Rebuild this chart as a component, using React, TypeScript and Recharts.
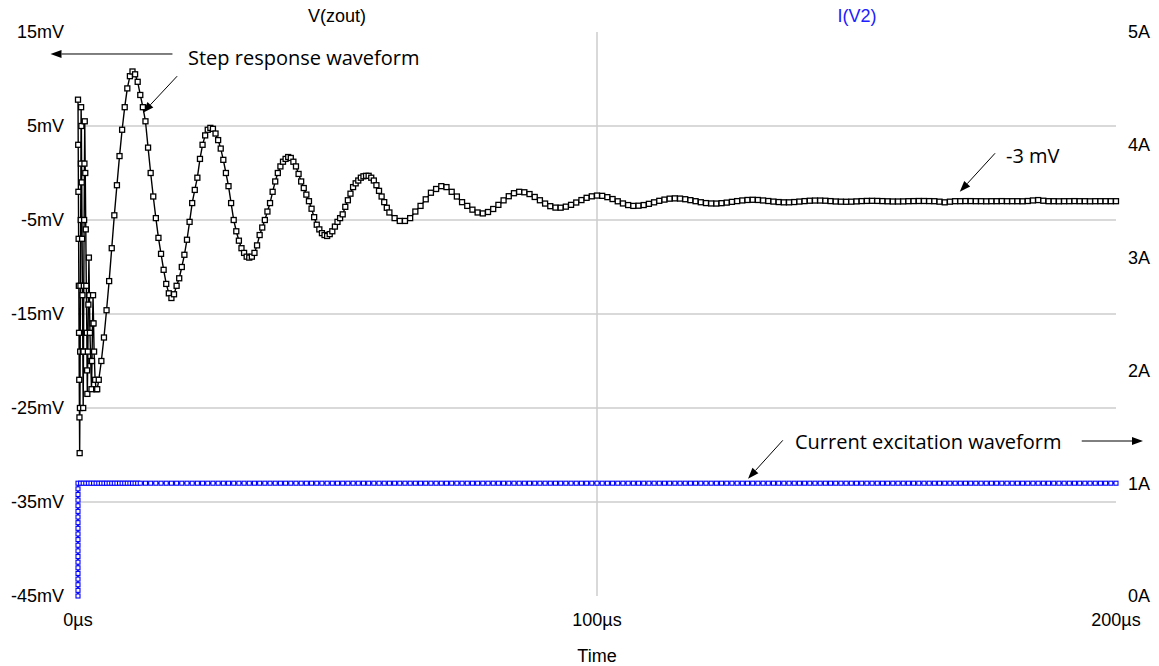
import React from 'react';
import { LineChart, Line, XAxis, YAxis, ReferenceLine } from 'recharts';

// ---- time axis (µs) and V(zout) samples (mV) ----
const voltageTimes = [
  0, 0.04, 0.08, 0.12, 0.16, 0.2, 0.24, 0.28, 0.32,
  0.37, 0.42, 0.47, 0.52, 0.56, 0.6,
  0.65, 0.72, 0.79, 0.86, 0.93, 1.0,
  1.06, 1.12, 1.18, 1.24, 1.3,
  1.4, 1.5, 1.6, 1.7, 1.75, 1.8,
  1.9, 2.0, 2.1,
  2.2, 2.3, 2.45, 2.6,
  2.7, 2.8, 2.9,
  3.0, 3.1, 3.3, 3.5, 3.7,
  4, 4.5, 5, 5.5, 6, 6.5, 7, 7.5, 8, 8.5, 9, 9.5, 10, 10.5, 11, 11.5, 12, 12.5, 13, 13.5,
  14, 14.5, 15, 15.5, 16, 16.5, 17, 17.5, 18, 18.5, 19, 19.5, 20, 20.5, 21, 21.5, 22, 22.5,
  23, 23.5, 24, 24.5, 25, 25.5, 26, 26.5, 27, 27.5, 28, 28.5, 29, 29.5, 30, 30.5, 31, 31.5,
  32, 32.5, 33, 33.5, 34, 34.5, 35, 35.5, 36, 36.5, 37, 37.5, 38, 38.5, 39, 39.5, 40, 40.5,
  41, 41.5, 42, 42.5, 43, 43.5, 44, 44.5, 45, 45.5, 46, 46.5, 47, 47.5, 48, 48.5, 49, 49.5,
  50, 50.5, 51, 51.5, 52, 52.5, 53, 53.5, 54, 54.5, 55, 55.5, 56, 56.5, 57, 57.5, 58, 58.5,
  59, 59.5, 60,
  61, 62, 63, 64, 65, 66, 67, 68, 69, 70, 71, 72, 73, 74, 75, 76, 77, 78, 79, 80,
  81, 82, 83, 84, 85, 86, 87, 88, 89, 90, 91, 92, 93, 94, 95, 96, 97, 98, 99, 100,
  101, 102, 103, 104, 105, 106, 107, 108, 109, 110, 111, 112, 113, 114, 115, 116, 117, 118, 119, 120,
  121, 122, 123, 124, 125, 126, 127, 128, 129, 130, 131, 132, 133, 134, 135, 136, 137, 138, 139, 140,
  141, 142, 143, 144, 145, 146, 147, 148, 149, 150, 151, 152, 153, 154, 155, 156, 157, 158, 159, 160,
  161, 162, 163, 164, 165, 166, 167, 168, 169, 170, 171, 172, 173, 174, 175, 176, 177, 178, 179, 180,
  181, 182, 183, 184, 185, 186, 187, 188, 189, 190, 191, 192, 193, 194, 195, 196, 197, 198, 199, 200,
];

const voltageValues = [
  7.8, 3.0, -2.0, -7.0, -12.0, -17.0, -22.0, -26.0, -29.8,
  -25, -19, -12, -5, 1, 7,
  5, -1, -7, -13, -19, -25,
  -19, -12, -5, 1, 5.5,
  0, -6, -12, -17, -21, -23.5,
  -19, -14, -9,
  -13, -17, -20, -23,
  -20, -16, -13,
  -16, -19, -22, -23, -23,
  -22.0, -20.0, -17.5, -14.6, -11.5, -8.0, -4.5, -1.3, 1.8, 4.6, 7.0, 9.0, 10.3, 10.8, 10.5, 9.7, 8.3, 7.0, 5.5, 2.7,
  0.0, -2.5, -4.8, -6.9, -8.6, -10.3, -11.8, -12.8, -13.3, -12.9, -12.0, -11.2, -10.0, -8.7, -7.1, -5.2, -3.2, -1.8,
  -0.5, 1.5, 3.0, 4.0, 4.6, 4.8, 4.7, 4.2, 3.5, 2.6, 1.4, 0.0, -1.4, -3.2, -5.0, -6.2, -7.2, -8.0,
  -8.5, -8.9, -9.0, -8.9, -8.5, -7.7, -6.6, -5.8, -5.0, -4.1, -3.2, -2.0, -0.9, 0.0, 0.7, 1.2, 1.5, 1.7,
  1.6, 1.2, 0.7, -0.1, -0.9, -1.6, -2.3, -3.0, -3.8, -4.7, -5.5, -6.0, -6.4, -6.6, -6.7, -6.5, -6.2, -5.7,
  -5.2, -4.8, -4.4, -3.6, -2.9, -2.2, -1.5, -1.1, -0.8, -0.5, -0.35, -0.3, -0.3, -0.5, -0.8, -1.3, -1.9, -2.5,
  -3.1, -3.7, -4.2,
  -4.8, -5.1, -5.1, -4.8, -4.1, -3.5, -2.8, -2.1, -1.7, -1.4, -1.5, -2.0, -2.5, -3.1, -3.5, -3.9, -4.2, -4.3, -4.15, -3.83,
  -3.39, -2.91, -2.47, -2.15, -2.0, -2.05, -2.24, -2.55, -2.9, -3.25, -3.53, -3.68, -3.69, -3.58, -3.39, -3.14, -2.88, -2.64, -2.48, -2.4,
  -2.43, -2.57, -2.77, -3.01, -3.24, -3.41, -3.5, -3.48, -3.41, -3.28, -3.12, -2.96, -2.83, -2.73, -2.7, -2.72, -2.79, -2.89, -3.0, -3.11,
  -3.2, -3.24, -3.25, -3.21, -3.15, -3.07, -2.99, -2.92, -2.87, -2.85, -2.87, -2.92, -2.98, -3.04, -3.09, -3.12, -3.12, -3.09, -3.04, -2.99,
  -2.95, -2.93, -2.93, -2.95, -2.99, -3.03, -3.05, -3.06, -3.05, -3.02, -2.99, -2.97, -2.96, -2.97, -2.99, -3.01, -3.03, -3.03, -3.02, -3.0,
  -2.99, -2.98, -2.98, -2.99, -3.0, -3.05, -3.12, -3.05, -3.0, -3.0, -2.99, -2.99, -3.0, -3.0, -3.01, -3.0, -3.0, -2.99, -3.0, -3.0,
  -3.0, -3.01, -2.98, -2.92, -2.88, -2.95, -3.0, -3.0, -3.01, -3.0, -3.0, -2.99, -3.0, -3.0, -3.01, -3.0, -3.0, -3.0, -3.0, -3.0,
];

// ---- I(V2) samples (A) ----
const currentTimes = [
  0, 0, 0, 0, 0, 0, 0, 0, 0, 0, 0, 0, 0, 0, 0, 0, 0, 0, 0, 0, 0,
  0.5, 1, 1.5, 2, 2.5, 3, 3.5, 4, 4.5, 5, 5.5, 6, 6.5, 7, 7.5, 8, 8.5, 9, 9.5, 10, 10.5, 11, 11.5, 12,
  13, 14, 15, 16, 17, 18, 19, 20, 21, 22, 23, 24, 25, 26, 27, 28, 29, 30, 31, 32, 33, 34, 35, 36, 37, 38, 39, 40,
  41, 42, 43, 44, 45, 46, 47, 48, 49, 50, 51, 52, 53, 54, 55, 56, 57, 58, 59, 60, 61, 62, 63, 64, 65, 66, 67, 68,
  69, 70, 71, 72, 73, 74, 75, 76, 77, 78, 79, 80, 81, 82, 83, 84, 85, 86, 87, 88, 89, 90, 91, 92, 93, 94, 95, 96,
  97, 98, 99, 100, 101, 102, 103, 104, 105, 106, 107, 108, 109, 110, 111, 112, 113, 114, 115, 116, 117, 118, 119, 120,
  121, 122, 123, 124, 125, 126, 127, 128, 129, 130, 131, 132, 133, 134, 135, 136, 137, 138, 139, 140, 141, 142, 143, 144,
  145, 146, 147, 148, 149, 150, 151, 152, 153, 154, 155, 156, 157, 158, 159, 160, 161, 162, 163, 164, 165, 166, 167, 168,
  169, 170, 171, 172, 173, 174, 175, 176, 177, 178, 179, 180, 181, 182, 183, 184, 185, 186, 187, 188, 189, 190, 191, 192,
  193, 194, 195, 196, 197, 198, 199, 200,
];

const currentValues = [
  0, 0.05, 0.1, 0.15, 0.2, 0.25, 0.3, 0.35, 0.4, 0.45, 0.5, 0.55, 0.6, 0.65, 0.7, 0.75, 0.8, 0.85, 0.9, 0.95, 1,
  1, 1, 1, 1, 1, 1, 1, 1, 1, 1, 1, 1, 1, 1, 1, 1, 1, 1, 1, 1, 1, 1, 1, 1,
  1, 1, 1, 1, 1, 1, 1, 1, 1, 1, 1, 1, 1, 1, 1, 1, 1, 1, 1, 1, 1, 1, 1, 1, 1, 1, 1, 1,
  1, 1, 1, 1, 1, 1, 1, 1, 1, 1, 1, 1, 1, 1, 1, 1, 1, 1, 1, 1, 1, 1, 1, 1, 1, 1, 1, 1,
  1, 1, 1, 1, 1, 1, 1, 1, 1, 1, 1, 1, 1, 1, 1, 1, 1, 1, 1, 1, 1, 1, 1, 1, 1, 1, 1, 1,
  1, 1, 1, 1, 1, 1, 1, 1, 1, 1, 1, 1, 1, 1, 1, 1, 1, 1, 1, 1, 1, 1, 1, 1,
  1, 1, 1, 1, 1, 1, 1, 1, 1, 1, 1, 1, 1, 1, 1, 1, 1, 1, 1, 1, 1, 1, 1, 1,
  1, 1, 1, 1, 1, 1, 1, 1, 1, 1, 1, 1, 1, 1, 1, 1, 1, 1, 1, 1, 1, 1, 1, 1,
  1, 1, 1, 1, 1, 1, 1, 1, 1, 1, 1, 1, 1, 1, 1, 1, 1, 1, 1, 1, 1, 1, 1, 1,
  1, 1, 1, 1, 1, 1, 1, 1,
];

// ---- axes ----
const timeTicks = [0, 100, 200];
const voltageTicks = [-45, -35, -25, -15, -5, 5, 15];
const currentTicks = [0, 1, 2, 3, 4, 5];
const voltageGrid = [-35, -25, -15, -5, 5];
const timeGrid = [100];

const voltageData = voltageTimes.map((t, i) => ({ t, v: voltageValues[i] }));
const currentData = currentTimes.map((t, i) => ({ t, a: currentValues[i] }));

const AXIS_FONT = '"Liberation Sans", Arial, sans-serif';
const NOTE_FONT = '"Open Sans", "Noto Sans", sans-serif';
const BLUE = '#0000ff';

const blackDot = (p: any) => (
  <rect key={`vd-${p.index}`} x={p.cx - 2.5} y={p.cy - 2.5} width={5} height={5} fill="#fff" stroke="#000" strokeWidth={1.3} />
);
const blueDot = (p: any) => (
  <rect key={`ad-${p.index}`} x={p.cx - 2} y={p.cy - 2} width={4} height={4} fill="#fff" stroke={BLUE} strokeWidth={1.1} />
);

const arrowShape = (p: any) => {
  const { x1, y1, x2, y2 } = p;
  const ang = Math.atan2(y2 - y1, x2 - x1);
  const len = 11;
  const half = 4;
  const bx = x2 - len * Math.cos(ang);
  const by = y2 - len * Math.sin(ang);
  const px = -Math.sin(ang) * half;
  const py = Math.cos(ang) * half;
  return (
    <g>
      <line x1={x1} y1={y1} x2={bx} y2={by} stroke="#000" strokeWidth={1} />
      <polygon points={`${x2},${y2} ${bx + px},${by + py} ${bx - px},${by - py}`} fill="#000" />
    </g>
  );
};

export default function App() {
  return (
    <div style={{ position: 'absolute', left: 0, top: 0, width: 1159, height: 666, background: '#fff' }}>
      <LineChart width={1159} height={666} margin={{ top: 32, right: 0, bottom: 0, left: 0 }}>
        <XAxis
          xAxisId="t"
          type="number"
          dataKey="t"
          domain={[0, 200]}
          ticks={timeTicks}
          interval={0}
          tickFormatter={(v: number) => `${v}µs`}
          axisLine={false}
          tickLine={false}
          tickSize={6}
          tickMargin={11}
          height={70}
          tick={{ fill: '#000', fontSize: 18, fontFamily: AXIS_FONT }}
        />
        <YAxis
          yAxisId="mv"
          orientation="left"
          type="number"
          domain={[-45, 15]}
          ticks={voltageTicks}
          interval={0}
          tickFormatter={(v: number) => `${v}mV`}
          axisLine={false}
          tickLine={false}
          tickSize={6}
          tickMargin={8}
          width={78}
          tick={{ fill: '#000', fontSize: 18, fontFamily: AXIS_FONT }}
        />
        <YAxis
          yAxisId="amp"
          orientation="right"
          type="number"
          domain={[0, 5]}
          ticks={currentTicks}
          interval={0}
          tickFormatter={(v: number) => `${v}A`}
          axisLine={false}
          tickLine={false}
          tickSize={6}
          tickMargin={6}
          width={43}
          tick={{ fill: '#000', fontSize: 18, fontFamily: AXIS_FONT }}
        />
        {voltageGrid.map((g) => (
          <ReferenceLine key={`hg-${g}`} xAxisId="t" yAxisId="mv" y={g} stroke="#cccccc" strokeWidth={1.5} />
        ))}
        {timeGrid.map((g) => (
          <ReferenceLine key={`vg-${g}`} xAxisId="t" yAxisId="mv" x={g} stroke="#cccccc" strokeWidth={1.5} />
        ))}
        <Line
          xAxisId="t"
          yAxisId="amp"
          data={currentData}
          dataKey="a"
          type="linear"
          stroke={BLUE}
          strokeWidth={1.8}
          dot={blueDot}
          isAnimationActive={false}
        />
        <Line
          xAxisId="t"
          yAxisId="mv"
          data={voltageData}
          dataKey="v"
          type="linear"
          stroke="#000"
          strokeWidth={1.4}
          dot={blackDot}
          isAnimationActive={false}
        />
        <ReferenceLine xAxisId="t" yAxisId="mv" ifOverflow="visible" segment={[{ x: 18.2, y: 12.66 }, { x: -5.3, y: 12.66 }]} shape={arrowShape} />
        <ReferenceLine xAxisId="t" yAxisId="mv" ifOverflow="visible" segment={[{ x: 19.1, y: 10.3 }, { x: 12.5, y: 6.4 }]} shape={arrowShape} />
        <ReferenceLine xAxisId="t" yAxisId="mv" ifOverflow="visible" segment={[{ x: 176.7, y: 2.1 }, { x: 169.9, y: -2.0 }]} shape={arrowShape} />
        <ReferenceLine xAxisId="t" yAxisId="amp" ifOverflow="visible" segment={[{ x: 135.8, y: 1.38 }, { x: 129.1, y: 1.04 }]} shape={arrowShape} />
        <ReferenceLine xAxisId="t" yAxisId="amp" ifOverflow="visible" segment={[{ x: 193.4, y: 1.374 }, { x: 205.2, y: 1.374 }]} shape={arrowShape} />
        <text x={337} y={16} textAnchor="middle" dominantBaseline="central" fontSize={18} fontFamily={AXIS_FONT} fill="#000">V(zout)</text>
        <text x={857} y={16} textAnchor="middle" dominantBaseline="central" fontSize={18} fontFamily={AXIS_FONT} fill="#2020ff">I(V2)</text>
        <text x={597} y={656} textAnchor="middle" dominantBaseline="central" fontSize={18} fontFamily={AXIS_FONT} fill="#000">Time</text>
        <text x={188} y={57} dominantBaseline="central" fontSize={20} fontFamily={NOTE_FONT} fill="#000">Step response waveform</text>
        <text x={1006} y={155} dominantBaseline="central" fontSize={20} fontFamily={NOTE_FONT} fill="#000">-3 mV</text>
        <text x={795} y={441} dominantBaseline="central" fontSize={20} fontFamily={NOTE_FONT} fill="#000">Current excitation waveform</text>
      </LineChart>
    </div>
  );
}
